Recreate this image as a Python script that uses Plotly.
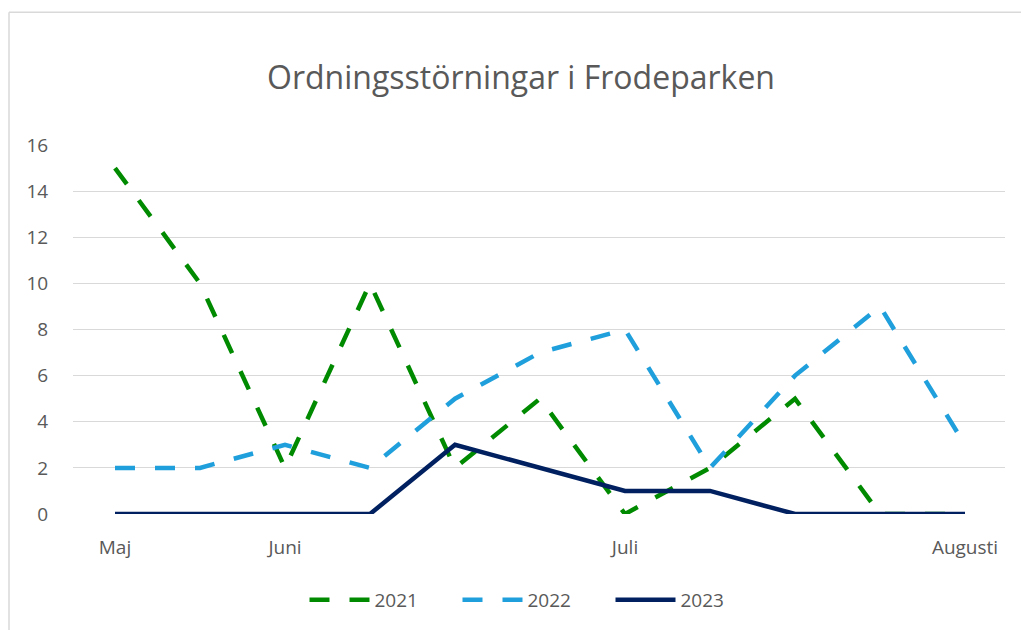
import plotly.graph_objects as go

x_labels = ["Maj", "", "Juni", "", "", "", "Juli", "", "", "", "Augusti"]
series_2021 = [15, 10, 2, 10, 2, 5, 0, 2, 5, 0, 0]
series_2022 = [2, 2, 3, 2, 5, 7, 8, 2, 6, 9, 3]
series_2023 = [0, 0, 0, 0, 3, 2, 1, 1, 0, 0, 0]
y_ticks = [0, 2, 4, 6, 8, 10, 12, 14, 16]

x_pos = list(range(len(x_labels)))
tickvals = [i for i, t in enumerate(x_labels) if t]
ticktext = [t for t in x_labels if t]

FONT = "Open Sans"
GRAY = "#595959"

fig = go.Figure()
fig.add_trace(go.Scatter(x=x_pos, y=series_2021, name="2021", mode="lines",
                         line=dict(color="#008A00", width=4.5, dash="20px,20px")))
fig.add_trace(go.Scatter(x=x_pos, y=series_2022, name="2022", mode="lines",
                         line=dict(color="#1F9FDB", width=4.5, dash="20px,20px")))
fig.add_trace(go.Scatter(x=x_pos, y=series_2023, name="2023", mode="lines",
                         line=dict(color="#002060", width=4.5)))

L, R, T, B = 73, 16, 145, 115
W, H = 1021, 630
pw = W - L - R
ph = H - T - B

def px_x(px):
    return (px - L) / pw

def px_y(py):
    return (H - B - py) / ph

fig.update_layout(
    width=W, height=H,
    margin=dict(l=L, r=R, t=T, b=B),
    paper_bgcolor="white", plot_bgcolor="white",
    font=dict(family=FONT, color=GRAY, size=20),
    title=dict(text="Ordningsstörningar i Frodeparken", x=(521 - L) / pw, xref="paper",
               xanchor="center", y=1 - 78 / H, yref="container", yanchor="middle",
               font=dict(family=FONT, size=32, color=GRAY)),
    xaxis=dict(range=[(L - 115) / 85, (W - R - 115) / 85], tickvals=tickvals, ticktext=ticktext,
               showgrid=False, zeroline=False, showline=False,
               ticks="outside", ticklen=16, tickcolor="rgba(0,0,0,0)",
               tickfont=dict(size=19, color=GRAY)),
    yaxis=dict(range=[0, 16], tickvals=y_ticks, showgrid=True, gridcolor="#D9D9D9",
               gridwidth=1.3, zeroline=False, showline=False,
               ticks="outside", ticklen=20, tickcolor="rgba(0,0,0,0)",
               tickfont=dict(size=19, color=GRAY)),
    legend=dict(orientation="h", x=(534 - L) / pw, xanchor="center", y=px_y(600),
                yanchor="middle", font=dict(size=19, color=GRAY), itemwidth=60,
                entrywidth=78, entrywidthmode="pixels"),
    showlegend=True,
    shapes=[
        dict(type="line", xref="paper", yref="paper", x0=px_x(9), x1=px_x(W + 5),
             y0=px_y(12), y1=px_y(12), line=dict(color="#D9D9D9", width=1.5)),
        dict(type="line", xref="paper", yref="paper", x0=px_x(9), x1=px_x(9),
             y0=px_y(12), y1=px_y(H + 5), line=dict(color="#D9D9D9", width=1.5)),
    ],
)

fig.write_html("out.html", config={"displayModeBar": False},
               post_script="document.body.style.margin='0';document.body.style.overflow='hidden';")
